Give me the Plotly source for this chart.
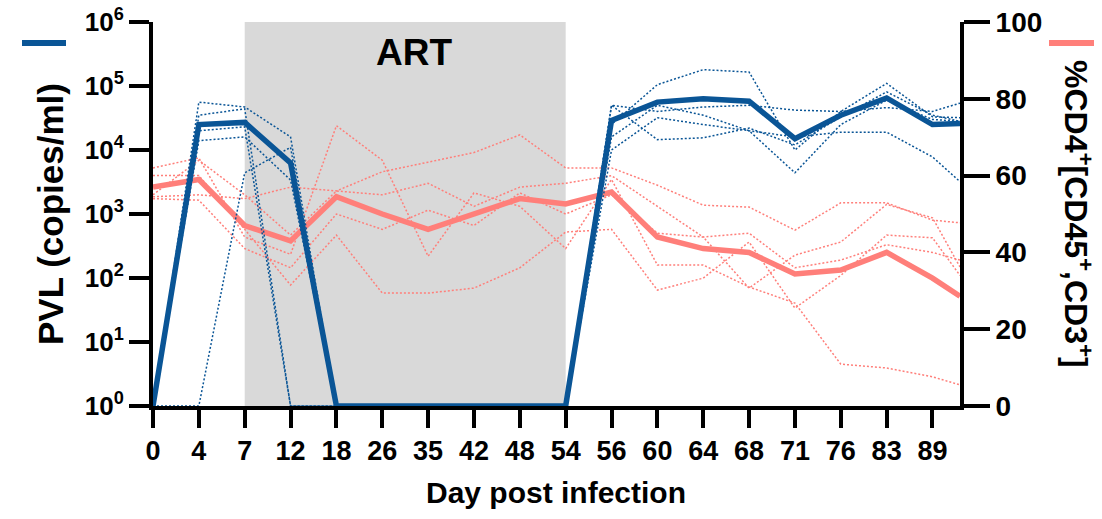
import plotly.graph_objects as go

# ---------------- data ----------------
days = [0, 4, 7, 12, 18, 26, 35, 42, 48, 54, 56, 60, 64, 68, 71, 76, 83, 89]
# one further (unlabelled) sampling after day 89 is plotted at the right axis

pvl_mean = [1, 2.5e4, 2.7e4, 6.3e3, 1, 1, 1, 1, 1, 1,
            2.9e4, 5.6e4, 6.3e4, 5.8e4, 1.5e4, 3.5e4, 6.5e4, 2.5e4, 2.6e4]
pvl_a1 = [1, 5.6e4, 4.7e4, 1.6e4, 1, 1, 1, 1, 1, 1,
          5.0e4, 4.0e4, 4.7e4, 5.0e4, 4.2e4, 4.0e4, 4.6e4, 4.0e4, 5.4e4]
pvl_a2 = [1, 3.5e4, 4.4e4, 1, 1, 1, 1, 1, 1, 1,
          2.5e4, 1.05e5, 1.8e5, 1.65e5, 1.0e4, 4.0e4, 1.1e5, 3.3e4, 3.2e4]
pvl_a3 = [1, 2.0e4, 2.3e4, 1, 1, 1, 1, 1, 1, 1,
          5.0e4, 1.45e4, 1.55e4, 2.2e4, 1.2e4, 3.3e4, 8.1e4, 3.5e4, 2.8e4]
pvl_a4 = [1, 1.4e4, 1.6e4, 3.4e3, 1, 1, 1, 1, 1, 1,
          1.6e4, 5.0e4, 3.5e4, 2.0e4, 4.4e3, 2.5e4, 6.0e4, 3.0e4, 2.8e4]
pvl_a5 = [1, 1, 4.4e3, 1.1e4, 1, 1, 1, 1, 1, 1,
          1.0e4, 3.2e4, 2.5e4, 2.0e4, 1.6e4, 1.9e4, 1.9e4, 7.8e3, 3.2e3]

cd4_mean = [57, 59, 47, 43, 54.5, 50, 46, 50, 54, 52.6,
            55.7, 44, 41, 40, 34.4, 35.4, 40, 33.3, 28.6]
cd4_a1 = [54.5, 55, 54, 57, 56, 61, 63.5, 66, 70.6, 62,
          62, 57.5, 52.3, 51.8, 45.8, 52.9, 52.9, 48.4, 47.7]
cd4_a2 = [62, 64.6, 44, 39.5, 73, 64, 39, 55.5, 52, 41,
          59, 36.7, 36.7, 31, 26.8, 10.9, 9.9, 7.6, 5.5]
cd4_a3 = [60, 60, 46, 31.5, 44.5, 29.4, 29.4, 30.7, 36, 45.3,
          46, 30.2, 33.3, 42.7, 25.5, 34, 44.5, 43.8, 34]
cd4_a4 = [54, 53.6, 41, 36, 50, 46, 51, 47, 55.5, 50,
          55, 45, 44, 30.7, 39.3, 42.7, 52.5, 49, 36.2]
cd4_a5 = [55, 64, 55, 44.5, 56, 55, 58, 52, 57, 58,
          60, 52, 44, 45, 36, 38, 42, 40, 38]

y_ticks_left = [1, 10, 100, 1e3, 1e4, 1e5, 1e6]
y_ticklabels_left = ["10<sup>%d</sup>" % i for i in range(7)]
y_ticks_right = [0, 20, 40, 60, 80, 100]

art_start, art_end = 7, 54

# ---------------- layout helpers ----------------
BLUE = "#0a5596"
SALMON = "#ff7f7a"
FONT = "Liberation Sans, Arial, sans-serif"

x_end = len(days) - 0.4
xpos = list(range(len(days))) + [x_end]

fig = go.Figure()

# CD4 (primary axis, right side)
for s in [cd4_a1, cd4_a2, cd4_a3, cd4_a4, cd4_a5]:
    fig.add_trace(go.Scatter(x=xpos, y=s, mode="lines", yaxis="y",
                             line=dict(color=SALMON, width=1.5, dash="2px,2px"),
                             showlegend=False, hoverinfo="skip"))
fig.add_trace(go.Scatter(x=xpos, y=cd4_mean, mode="lines", yaxis="y",
                         line=dict(color=SALMON, width=5.5),
                         showlegend=False))

# PVL (overlay axis, left side, log)
for s in [pvl_a1, pvl_a2, pvl_a3, pvl_a4, pvl_a5]:
    fig.add_trace(go.Scatter(x=xpos, y=s, mode="lines", yaxis="y2",
                             line=dict(color=BLUE, width=1.5, dash="2px,2px"),
                             showlegend=False, hoverinfo="skip"))
fig.add_trace(go.Scatter(x=xpos, y=pvl_mean, mode="lines", yaxis="y2",
                         line=dict(color=BLUE, width=5.5),
                         showlegend=False))

L, R, T, B = 153, 142, 22, 113
W, H = 1102, 519
pw, ph = W - L - R, H - T - B


def px_x(px):
    return (px - L) / pw


def px_y(py):
    return (H - B - py) / ph


fig.update_layout(
    width=W, height=H,
    margin=dict(l=L, r=R, t=T, b=B, autoexpand=False),
    paper_bgcolor="white", plot_bgcolor="white",
    showlegend=False,
    xaxis=dict(
        range=[0, x_end], tickvals=list(range(len(days))),
        ticktext=[str(d) for d in days],
        showgrid=False, zeroline=False, automargin=False,
        showline=True, linecolor="black", linewidth=4,
        ticks="outside", ticklen=18, tickwidth=4, tickcolor="black",
        tickfont=dict(family=FONT, size=27, color="black", weight="bold"),
        layer="below traces",
    ),
    yaxis=dict(
        range=[0, 100], tickvals=y_ticks_right,
        side="right", showgrid=False, zeroline=False, automargin=False,
        showline=True, linecolor="black", linewidth=4,
        ticks="outside", ticklen=26, tickwidth=4, tickcolor="black",
        tickfont=dict(family=FONT, size=28, color="black", weight="bold"),
        layer="below traces",
    ),
    yaxis2=dict(
        type="log", range=[0, 6], overlaying="y", side="left",
        tickvals=y_ticks_left, ticktext=y_ticklabels_left,
        showgrid=False, zeroline=False, automargin=False,
        showline=True, linecolor="black", linewidth=4,
        ticks="outside", ticklen=20, tickwidth=4, tickcolor="black",
        tickfont=dict(family=FONT, size=26, color="black", weight="bold"),
        layer="below traces",
    ),
    shapes=[
        dict(type="rect", xref="x", yref="paper",
             x0=days.index(art_start), x1=days.index(art_end), y0=0, y1=1,
             fillcolor="#d9d9d9", line=dict(width=0), layer="below"),
        dict(type="line", xref="paper", yref="paper",
             x0=px_x(22), x1=px_x(66), y0=px_y(43), y1=px_y(43),
             line=dict(color=BLUE, width=6)),
        dict(type="line", xref="paper", yref="paper",
             x0=px_x(1049), x1=px_x(1094), y0=px_y(43), y1=px_y(43),
             line=dict(color=SALMON, width=6)),
    ],
    annotations=[
        dict(text="<b>ART</b>", xref="paper", yref="paper",
             x=px_x(414), y=px_y(52), showarrow=False,
             xanchor="center", yanchor="middle",
             font=dict(family=FONT, size=37, color="black")),
        dict(text="<b>PVL (copies/ml)</b>", xref="paper", yref="paper",
             x=px_x(50), y=px_y(214), showarrow=False, textangle=-90,
             xanchor="center", yanchor="middle",
             font=dict(family=FONT, size=35, color="black")),
        dict(text="<b>%CD4<sup>+</sup>[CD45<sup>+</sup>,CD3<sup>+</sup>]</b>",
             xref="paper", yref="paper",
             x=px_x(1078), y=px_y(214), showarrow=False, textangle=90,
             xanchor="center", yanchor="middle",
             font=dict(family=FONT, size=32, color="black")),
        dict(text="<b>Day post infection</b>", xref="paper", yref="paper",
             x=px_x(556), y=px_y(492), showarrow=False,
             xanchor="center", yanchor="middle",
             font=dict(family=FONT, size=30, color="black")),
    ],
)

fig.write_html("out.html")
